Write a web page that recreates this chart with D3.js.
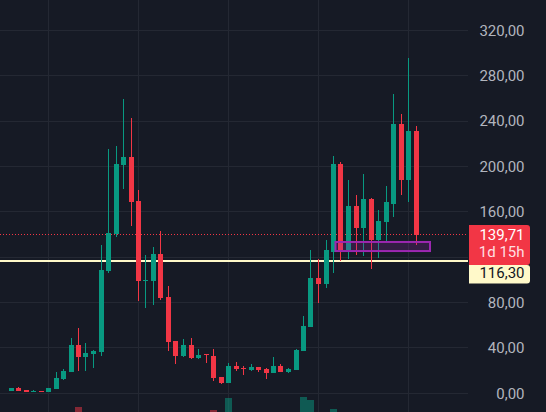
<!DOCTYPE html>
<html><head><meta charset="utf-8">
<script src="https://cdn.jsdelivr.net/npm/d3@7"></script>
<style>html,body{margin:0;padding:0;background:#161a25;overflow:hidden}svg{display:block}</style>
</head><body><svg id="c" width="546" height="412"></svg>
<script>
// ---- data ----
const candleIndex = d3.range(55);
const openV  = [1.8,4.4,2.9,0.9,1.9,0.9,3.5,12.3,18.5,42.3,31.7,34.3,36.1,107.4,140,201.6,208.7,169.9,99,98.6,122.4,84.5,45.8,32.6,42.3,30.8,34.3,32.6,14.1,8.8,23.8,22,20.2,22.9,21.1,17.6,23.8,18.5,20.2,37,58.1,101.3,96,125,202.5,126,165.5,145.3,171.7,134.7,151.4,167.3,237.7,188.4,231.6];
const highV  = [4.4,5.4,2.9,2.7,1.9,4.4,18.5,21,48.4,58,44,37.9,130.3,215.7,218.4,259.8,243,179.6,121.5,129.4,143.5,95,45.8,47.5,48.4,38.7,34.6,38.7,14.1,26.4,27.3,23.8,25.5,22.9,22,31.7,25.5,22,38.7,67.8,126,118,134.7,209.6,204.3,188.4,175.2,193.7,172.6,162,183.1,264,246.5,295.8,236];
const lowV   = [1.8,1.8,0.9,0.9,0.9,0.9,3.5,11.4,18.5,19.4,20,22,32.6,105.7,137.6,180.5,147.9,81,74.8,77.5,81.9,37,25.5,31.7,29.9,29.9,26.4,10.6,7.9,8.8,19.4,15.8,19.6,18.5,12.3,17.6,18.5,17.6,20.2,37,58.1,79.2,92.5,105.7,116.2,118,121.5,120.6,110,119.7,133,155,175.2,169,130.3];
const closeV = [4.4,1.8,0.9,2.0,0.9,4.4,13.2,19.4,42.3,31.7,35.2,37,108.3,140.9,202.5,208.7,169,98.6,99.6,122.4,83.6,44.9,32.6,42.3,30.8,33.5,33.5,13.2,8.8,23.8,21.1,21.1,22.9,20.2,17.6,23.8,18.5,21.1,37.9,59,101.3,96,126,202.5,126,165.5,145.3,171.7,134.7,152.3,168.2,237.7,188.4,231.6,139.71];
const volumeV = [12,10,8,6,6,9,20,22,48,75,40,30,62,64,60,55,50,58,40,38,45,52,35,30,28,22,20,70,55,90,30,25,22,20,26,40,28,22,55,92,87,50,60,72,58,45,40,44,42,36,40,58,50,60,55];
const yTicks = [0,40,80,120,160,200,240,280,320];
const gridIdx = [5,17,29,41,53];
const lastPrice = 139.71, countdown = "1d 15h";
const levelPrice = 116.30;
const boxIdx = [43.2, 55.8], boxPrice = [125.4, 133.4];

// ---- layout ----
const plotRight = 468;
const svg = d3.select("#c");
const x = d3.scaleLinear().domain([0,54]).range([11.5,416.5]);
const y = d3.scaleLinear().domain([0,320]).range([393.3,30.3]);
const yVol = d3.scaleLinear().domain([0,100]).range([452,392]);
const fmt = v => d3.format(".2f")(v).replace(".", ",");
const UP = "#089981", DOWN = "#f23645";
const left = i => Math.floor(x(i) - 2.5);

svg.append("rect").attr("width",546).attr("height",412).attr("fill","#161a25");

// grid
const grid = svg.append("g").attr("stroke","#242833").attr("stroke-width",1);
grid.selectAll(".h").data(yTicks).join("line")
  .attr("x1",0).attr("x2",plotRight)
  .attr("y1",d=>Math.floor(y(d))+0.5).attr("y2",d=>Math.floor(y(d))+0.5);
grid.selectAll(".v").data(gridIdx).join("line")
  .attr("y1",0).attr("y2",412)
  .attr("x1",d=>left(d)+2.5).attr("x2",d=>left(d)+2.5);

// volume
svg.append("g").selectAll("rect").data(candleIndex).join("rect")
  .attr("x",i=>left(i)-1).attr("width",7)
  .attr("y",i=>Math.round(yVol(volumeV[i]))).attr("height",i=>Math.max(0,460-Math.round(yVol(volumeV[i]))))
  .attr("fill",i=>closeV[i]>=openV[i]?UP:DOWN).attr("opacity",0.5);

// level line
svg.append("line").attr("x1",0).attr("x2",plotRight)
  .attr("y1",Math.round(y(levelPrice))).attr("y2",Math.round(y(levelPrice)))
  .attr("stroke","#fff9c9").attr("stroke-width",2);

// price line
svg.append("line").attr("x1",0).attr("x2",plotRight)
  .attr("y1",Math.floor(y(lastPrice))+0.5).attr("y2",Math.floor(y(lastPrice))+0.5)
  .attr("stroke",DOWN).attr("stroke-width",1).attr("stroke-dasharray","1,2");

// candles
const cg = svg.append("g");
const col = i => closeV[i]>=openV[i]?UP:DOWN;
cg.selectAll(".w").data(candleIndex).join("rect")
  .attr("x",i=>left(i)+2).attr("width",1)
  .attr("y",i=>Math.round(y(highV[i])))
  .attr("height",i=>Math.max(1,Math.round(y(lowV[i]))-Math.round(y(highV[i]))))
  .attr("fill",col);
cg.selectAll(".b").data(candleIndex).join("rect")
  .attr("x",i=>left(i)).attr("width",5)
  .attr("y",i=>Math.round(y(Math.max(openV[i],closeV[i]))))
  .attr("height",i=>Math.max(1,Math.round(y(Math.min(openV[i],closeV[i])))-Math.round(y(Math.max(openV[i],closeV[i])))))
  .attr("fill",col);

// rectangle drawing
svg.append("rect")
  .attr("x",x(boxIdx[0])).attr("width",x(boxIdx[1])-x(boxIdx[0]))
  .attr("y",y(boxPrice[1])).attr("height",y(boxPrice[0])-y(boxPrice[1]))
  .attr("fill","rgba(156,39,176,0.22)").attr("stroke","#9c27b0").attr("stroke-width",2);

// price label boxes
const ly = y(lastPrice);
const redTop = Math.round(ly)-10, redH = 40, yelH = 18.5;
const boxTop = redTop, boxBottom = redTop + redH + yelH;

// axis labels (hidden where the price labels cover them, as on the reference)
svg.append("g").selectAll("text")
  .data(yTicks.filter(d => y(d)+7 < boxTop || y(d)-7 > boxBottom)).join("text")
  .attr("x",524.5).attr("y",d=>y(d)+5.3).attr("text-anchor","end")
  .attr("font-family","Roboto, sans-serif").attr("font-size",15).attr("fill","#b2b5be")
  .text(fmt);

function rRect(x0,y0,w,h,r){return `M${x0},${y0}H${x0+w-r}Q${x0+w},${y0} ${x0+w},${y0+r}V${y0+h-r}Q${x0+w},${y0+h} ${x0+w-r},${y0+h}H${x0}Z`;}
svg.append("path").attr("d",rRect(469,redTop,61,redH,3)).attr("fill",DOWN);
svg.append("path").attr("d",rRect(469,redTop+redH,61,yelH,3)).attr("fill","#fff9c9");
const lab = svg.append("g").attr("font-family","Roboto, sans-serif").attr("font-size",15).attr("text-anchor","end");
lab.append("text").attr("x",524.5).attr("y",ly+5.3).attr("fill","#ffffff").text(fmt(lastPrice));
lab.append("text").attr("x",524.5).attr("y",ly+22.3).attr("fill","#ffdfe2").text(countdown);
lab.append("text").attr("x",524.5).attr("y",ly+43.3).attr("fill","#131722").text(fmt(levelPrice));
</script></body></html>
